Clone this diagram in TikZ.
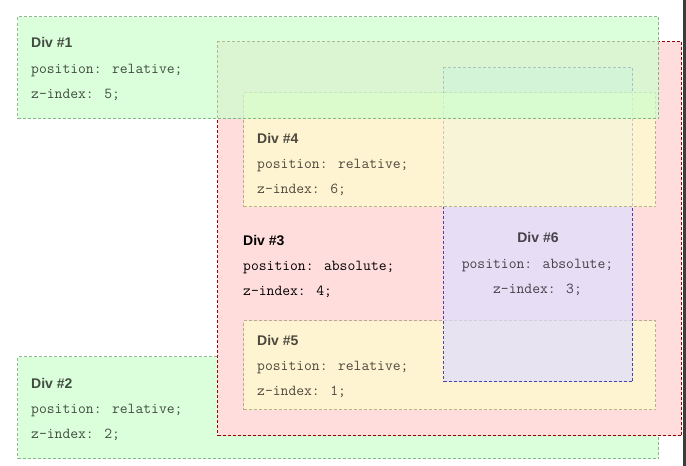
\documentclass[tikz,border=0pt]{standalone}
\usepackage{fontspec}
\newfontfamily\headfont{Liberation Sans}
\usepackage{tikz}

\definecolor{greenfill}{HTML}{CCFFCC}
\definecolor{greenline}{HTML}{669966}
\definecolor{pinkfill}{HTML}{FFDDDD}
\definecolor{redline}{HTML}{990000}
\definecolor{yellowfill}{HTML}{FFFFCC}
\definecolor{oliveline}{HTML}{999966}
\definecolor{bluefill}{HTML}{DDDDFF}
\definecolor{blueline}{HTML}{000099}
\definecolor{barcolor}{HTML}{3C3C3C}

\tikzset{
  divbox/.style={rectangle, inner sep=0pt, outer sep=0pt, anchor=north west,
    line width=1pt, dash pattern=on 3pt off 2pt},
  faded/.style={opacity=0.7, text opacity=0.7},
  headtext/.style={inner sep=0pt, font=\headfont\bfseries\fontsize{14}{16}\selectfont},
  codetext/.style={inner sep=0pt, font=\ttfamily\fontsize{15.2}{17}\selectfont},
}

\begin{document}
\begin{tikzpicture}[x=1pt, y=-1pt]
\useasboundingbox (0,0) rectangle (686,466);
% Div 2 (z-index 2)
\node[divbox, faded, fill=greenfill, draw=greenline, minimum width=641pt, minimum height=102pt] (div2) at (17.5,356.5) {};
\node[headtext, faded, anchor=base west] (div2head) at (31,388) {Div \#2};
\node[codetext, faded, anchor=base west] (div2pos) at (31,413.5) {position: relative;};
\node[codetext, faded, anchor=base west] (div2z) at (31,438) {z-index: 2;};
% Div 3 (z-index 4)
\node[divbox, fill=pinkfill, draw=redline, minimum width=464pt, minimum height=394pt] (div3) at (217.5,41.5) {};
\node[headtext, anchor=base west] (div3head) at (243,245) {Div \#3};
\node[codetext, anchor=base west] (div3pos) at (243,270) {position: absolute;};
\node[codetext, anchor=base west] (div3z) at (243,295) {z-index: 4;};
% Div 5 (z-index 1)
\node[divbox, faded, fill=yellowfill, draw=oliveline, minimum width=412pt, minimum height=89pt] (div5) at (243.5,320.5) {};
\node[headtext, faded, anchor=base west] (div5head) at (257,345) {Div \#5};
\node[codetext, faded, anchor=base west] (div5pos) at (257,370) {position: relative;};
\node[codetext, faded, anchor=base west] (div5z) at (257,395) {z-index: 1;};
% Div 6 (z-index 3)
\node[divbox, faded, fill=bluefill, draw=blueline, minimum width=189pt, minimum height=314pt] (div6) at (443.5,67.5) {};
\node[headtext, faded, anchor=base] (div6head) at (538,242.5) {Div \#6};
\node[codetext, faded, anchor=base] (div6pos) at (537.5,268) {position: absolute;};
\node[codetext, faded, anchor=base] (div6z) at (537.5,293) {z-index: 3;};
% Div 4 (z-index 6)
\node[divbox, faded, fill=yellowfill, draw=oliveline, minimum width=412pt, minimum height=114pt] (div4) at (243.5,92.5) {};
\node[headtext, faded, anchor=base west] (div4head) at (257,143) {Div \#4};
\node[codetext, faded, anchor=base west] (div4pos) at (257,168) {position: relative;};
\node[codetext, faded, anchor=base west] (div4z) at (257,193) {z-index: 6;};
% Div 1 (z-index 5)
\node[divbox, faded, fill=greenfill, draw=greenline, minimum width=641pt, minimum height=102pt] (div1) at (17.5,16.5) {};
\node[headtext, faded, anchor=base west] (div1head) at (31,47) {Div \#1};
\node[codetext, faded, anchor=base west] (div1pos) at (31,73) {position: relative;};
\node[codetext, faded, anchor=base west] (div1z) at (31,98) {z-index: 5;};
% scroll bar edge
\fill[barcolor] (683,0) rectangle (686,466);
\end{tikzpicture}
\end{document}
